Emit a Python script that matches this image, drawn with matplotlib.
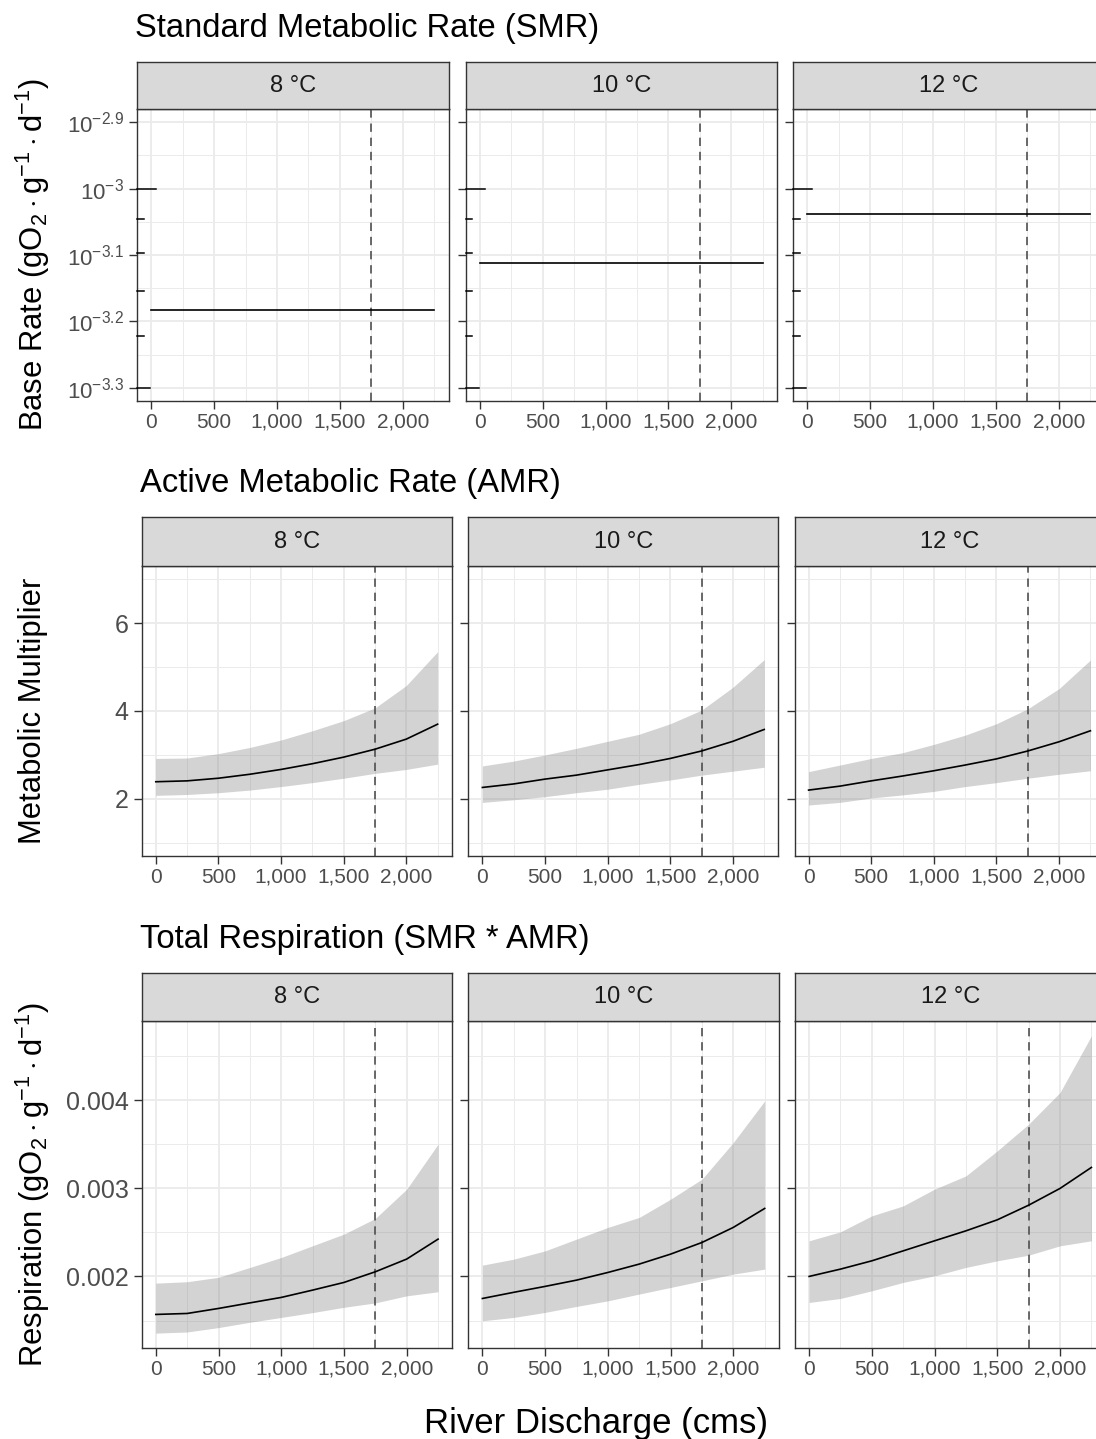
import numpy as np
import matplotlib
matplotlib.use("Agg")
import matplotlib.pyplot as plt
from matplotlib.ticker import FixedLocator, FixedFormatter

plt.rcParams['font.family'] = ['Liberation Sans', 'DejaVu Sans']
plt.rcParams['mathtext.fontset'] = 'custom'
plt.rcParams['mathtext.rm'] = 'Liberation Sans'
plt.rcParams['mathtext.it'] = 'Liberation Sans:italic'
plt.rcParams['mathtext.bf'] = 'Liberation Sans:bold'
plt.rcParams['mathtext.sf'] = 'Liberation Sans'

# ---------------- data ----------------
temps = ['8 °C', '10 °C', '12 °C']
discharge = [0, 250, 500, 750, 1000, 1250, 1500, 1750, 2000, 2250]
ref_discharge = 1750

x_ticks = [0, 500, 1000, 1500, 2000]
x_tick_labels = ['0', '500', '1,000', '1,500', '2,000']

# Standard metabolic rate (constant over discharge)
smr_rate = [6.56e-4, 7.73e-4, 9.16e-4]
smr_exponents = [-2.9, -3.0, -3.1, -3.2, -3.3]
smr_tick_labels = [r'$10^{-2.9}$', r'$10^{-3}$', r'$10^{-3.1}$', r'$10^{-3.2}$', r'$10^{-3.3}$']

# Active metabolic rate multiplier
amr_mean_8 = [2.39, 2.41, 2.47, 2.56, 2.67, 2.80, 2.95, 3.13, 3.36, 3.70]
amr_upper_8 = [2.92, 2.93, 3.03, 3.17, 3.34, 3.55, 3.78, 4.07, 4.58, 5.35]
amr_lower_8 = [2.08, 2.10, 2.14, 2.20, 2.28, 2.37, 2.47, 2.58, 2.67, 2.79]
amr_mean_10 = [2.26, 2.34, 2.45, 2.54, 2.66, 2.78, 2.92, 3.09, 3.31, 3.58]
amr_upper_10 = [2.75, 2.86, 3.00, 3.15, 3.31, 3.47, 3.71, 4.02, 4.54, 5.17]
amr_lower_10 = [1.92, 1.98, 2.05, 2.14, 2.22, 2.33, 2.43, 2.54, 2.63, 2.72]
amr_mean_12 = [2.20, 2.29, 2.41, 2.52, 2.64, 2.77, 2.91, 3.09, 3.30, 3.55]
amr_upper_12 = [2.62, 2.77, 2.92, 3.05, 3.24, 3.45, 3.71, 4.05, 4.51, 5.16]
amr_lower_12 = [1.86, 1.92, 2.02, 2.09, 2.17, 2.28, 2.37, 2.47, 2.56, 2.64]
amr_ticks = [2, 4, 6]
amr_minor = [1, 3, 5, 7]
amr_limits = (1, 7)

# Total respiration
resp_mean_8 = [0.001569, 0.001580, 0.001637, 0.001700, 0.001762, 0.001845, 0.001932, 0.002053, 0.002197, 0.002423]
resp_upper_8 = [0.001924, 0.001940, 0.001990, 0.002102, 0.002215, 0.002348, 0.002480, 0.002658, 0.002990, 0.003500]
resp_lower_8 = [0.001357, 0.001370, 0.001420, 0.001480, 0.001535, 0.001590, 0.001650, 0.001700, 0.001780, 0.001826]
resp_mean_10 = [0.001750, 0.001820, 0.001887, 0.001958, 0.002045, 0.002140, 0.002253, 0.002385, 0.002556, 0.002771]
resp_upper_10 = [0.002128, 0.002196, 0.002290, 0.002423, 0.002556, 0.002669, 0.002876, 0.003103, 0.003519, 0.003990]
resp_lower_10 = [0.001497, 0.001535, 0.001592, 0.001660, 0.001723, 0.001800, 0.001875, 0.001950, 0.002026, 0.002083]
resp_mean_12 = [0.002000, 0.002083, 0.002177, 0.002290, 0.002404, 0.002517, 0.002642, 0.002808, 0.002998, 0.003236]
resp_upper_12 = [0.002404, 0.002506, 0.002687, 0.002800, 0.002990, 0.003140, 0.003424, 0.003727, 0.004086, 0.004728]
resp_lower_12 = [0.001705, 0.001750, 0.001837, 0.001932, 0.002007, 0.002102, 0.002177, 0.002241, 0.002347, 0.002404]
resp_ticks = [0.002, 0.003, 0.004]
resp_tick_labels = ['0.002', '0.003', '0.004']
resp_minor = [0.0015, 0.0025, 0.0035, 0.0045]

titles = ['Standard Metabolic Rate (SMR)', 'Active Metabolic Rate (AMR)', 'Total Respiration (SMR * AMR)']
ylabels = [r'Base Rate $(\mathrm{gO_2}\cdot\mathrm{g^{-1}}\cdot\mathrm{d^{-1}})$',
           'Metabolic Multiplier',
           r'Respiration $(\mathrm{gO_2}\cdot\mathrm{g^{-1}}\cdot\mathrm{d^{-1}})$']
xlabel = 'River Discharge (cms)'

# ---------------- layout (pixels) ----------------
W, H = 1096, 1439
fig = plt.figure(figsize=(W / 100, H / 100), dpi=100)
fig.patch.set_facecolor('white')

def box(l, t, r, b):
    return [l / W, 1 - b / H, (r - l) / W, (b - t) / H]

rows = [
    dict(strip_top=62, panel_top=109, panel_bottom=401, lefts=[137, 465.5, 793], width=311.5),
    dict(strip_top=517, panel_top=566, panel_bottom=856, lefts=[141.7, 468.3, 794.5], width=310),
    dict(strip_top=973, panel_top=1021, panel_bottom=1348, lefts=[141.7, 468.3, 795], width=310.5),
]

BORDER = '#333333'
GRID = '#EBEBEB'
TXT = '#4D4D4D'
XLIM = (-0.05 * 2250, 2250 * 1.05)

def expand(lo, hi, f=0.05):
    d = (hi - lo) * f
    return lo - d, hi + d

def style_panel(ax):
    for s in ax.spines.values():
        s.set_color(BORDER)
        s.set_linewidth(1.0)
    ax.set_facecolor('white')
    ax.set_xlim(*XLIM)
    ax.xaxis.set_major_locator(FixedLocator(x_ticks))
    ax.xaxis.set_major_formatter(FixedFormatter(x_tick_labels))
    ax.xaxis.set_minor_locator(FixedLocator([250, 750, 1250, 1750, 2250]))
    ax.grid(which='major', color=GRID, lw=1.3, zorder=0)
    ax.grid(which='minor', color=GRID, lw=0.7, zorder=0)
    ax.set_axisbelow(True)
    ax.tick_params(which='major', length=6, width=1.0, color=BORDER, labelcolor=TXT)
    ax.tick_params(axis='x', which='major', labelsize=15, pad=2.5)
    ax.tick_params(axis='y', which='major', labelsize=18, pad=3.5)
    ax.tick_params(which='minor', length=0)
    ax.axvline(ref_discharge, color='#505050', lw=1.2, ls=(0, (5, 3.5)), zorder=4)

def add_strip(row, i, label):
    r = rows[row]
    l = r['lefts'][i]
    sax = fig.add_axes(box(l, r['strip_top'], l + r['width'], r['panel_top']))
    sax.set_facecolor('#D9D9D9')
    for s in sax.spines.values():
        s.set_color(BORDER)
        s.set_linewidth(1.0)
    sax.set_xticks([])
    sax.set_yticks([])
    sax.text(0.5, 0.5, label, transform=sax.transAxes, ha='center', va='center',
             fontsize=17, color='#1A1A1A')

def add_panel(row, i):
    r = rows[row]
    l = r['lefts'][i]
    ax = fig.add_axes(box(l, r['panel_top'], l + r['width'], r['panel_bottom']))
    add_strip(row, i, temps[i])
    return ax

# ---------- Row 1: SMR ----------
smr_lims = (10 ** (smr_exponents[-1] - 0.02), 10 ** (smr_exponents[0] + 0.02))
smr_minor = [10 ** (e - 0.05) for e in smr_exponents[:-1]]
logticks = [m * 10.0 ** k for k in (-4, -3) for m in range(1, 10)]
for i in range(3):
    ax = add_panel(0, i)
    ax.set_yscale('log')
    style_panel(ax)
    ax.set_ylim(*smr_lims)
    ax.yaxis.set_major_locator(FixedLocator([10 ** e for e in smr_exponents]))
    ax.yaxis.set_minor_locator(FixedLocator(smr_minor))
    ax.yaxis.set_minor_formatter(FixedFormatter([''] * len(smr_minor)))
    if i == 0:
        ax.yaxis.set_major_formatter(FixedFormatter(smr_tick_labels))
        ax.tick_params(axis='y', which='major', labelsize=16)
    else:
        ax.yaxis.set_major_formatter(FixedFormatter([''] * 5))
    ax.plot([discharge[0], discharge[-1]], [smr_rate[i], smr_rate[i]], color='black', lw=1.2, zorder=5)
    # annotation_logticks on left side
    wpx = rows[0]['width']
    for v in logticks:
        if smr_lims[0] <= v <= smr_lims[1]:
            m = round(v / 10 ** np.floor(np.log10(v) + 1e-9))
            L = 19 if m == 1 else (13 if m == 5 else 6.5)
            ax.plot([0, L / wpx], [v, v], color='black', lw=1.1,
                    transform=ax.get_yaxis_transform(), clip_on=False, zorder=6)

# ---------- Row 2: AMR ----------
amr = [(amr_mean_8, amr_lower_8, amr_upper_8),
       (amr_mean_10, amr_lower_10, amr_upper_10),
       (amr_mean_12, amr_lower_12, amr_upper_12)]
for i in range(3):
    ax = add_panel(1, i)
    style_panel(ax)
    ax.set_ylim(*expand(*amr_limits))
    ax.yaxis.set_major_locator(FixedLocator(amr_ticks))
    ax.yaxis.set_minor_locator(FixedLocator(amr_minor))
    mean, lo, hi = amr[i]
    ax.fill_between(discharge, lo, hi, color='#808080', alpha=0.34, lw=0, zorder=2)
    ax.plot(discharge, mean, color='black', lw=1.2, zorder=5)
    if i > 0:
        ax.yaxis.set_major_formatter(FixedFormatter([''] * 3))

# ---------- Row 3: Respiration ----------
resp = [(resp_mean_8, resp_lower_8, resp_upper_8),
        (resp_mean_10, resp_lower_10, resp_upper_10),
        (resp_mean_12, resp_lower_12, resp_upper_12)]
all_resp = [v for s in resp for arr in s for v in arr]
resp_lims = expand(min(all_resp), max(all_resp))
for i in range(3):
    ax = add_panel(2, i)
    style_panel(ax)
    ax.set_ylim(*resp_lims)
    ax.yaxis.set_major_locator(FixedLocator(resp_ticks))
    ax.yaxis.set_minor_locator(FixedLocator(resp_minor))
    if i == 0:
        ax.yaxis.set_major_formatter(FixedFormatter(resp_tick_labels))
    else:
        ax.yaxis.set_major_formatter(FixedFormatter([''] * 3))
    mean, lo, hi = resp[i]
    ax.fill_between(discharge, lo, hi, color='#808080', alpha=0.34, lw=0, zorder=2)
    ax.plot(discharge, mean, color='black', lw=1.2, zorder=5)

# ---------- titles / labels ----------
for r, t in zip(rows, titles):
    fig.text((r['lefts'][0] - 2) / W, 1 - (r['strip_top'] - 25) / H, t,
             fontsize=23.6, color='black', ha='left', va='baseline')
for r, yl in zip(rows, ylabels):
    cy = (r['panel_top'] + r['panel_bottom']) / 2
    fig.text(33 / W, 1 - cy / H, yl, rotation=90, fontsize=22.3, color='black',
             ha='center', va='center')
fig.text(596 / W, 1 - 1433 / H, xlabel, fontsize=25, color='black', ha='center', va='baseline')

fig.savefig('out.png', dpi=100, facecolor='white')
